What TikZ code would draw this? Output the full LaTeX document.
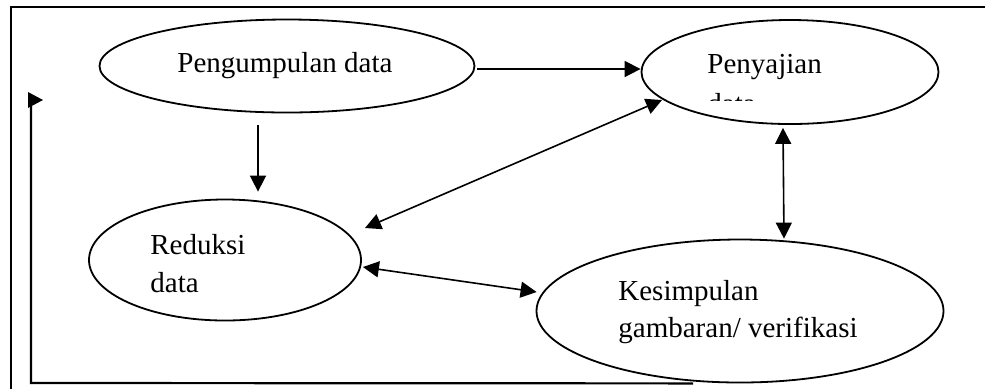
\documentclass[tikz,border=0pt]{standalone}
\usepackage{fontspec}
\setmainfont{Liberation Serif}
\usetikzlibrary{arrows.meta,calc,shapes.geometric}
\begin{document}
\begin{tikzpicture}[x=0.5pt,y=-0.5pt,
  ell/.style={draw, ellipse, line width=0.9pt, inner sep=0pt},
  lbl/.style={anchor=base west, inner sep=0pt, font=\fontsize{14.5}{17}\selectfont},
  conn/.style={line width=0.8pt, -{Triangle[length=8pt,width=8pt]}},
  biconn/.style={line width=0.8pt, {Triangle[length=8pt,width=8pt]}-{Triangle[length=8pt,width=8pt]}},
  framestyle/.style={line width=1.1pt}]
\useasboundingbox (0,0) rectangle (985,388);

% ellipses
\node[ell, minimum width=187.5pt, minimum height=46.5pt] (peng) at (287,66) {};
\node[ell, minimum width=148.5pt, minimum height=52pt] (peny) at (790,72) {};
\node[ell, minimum width=136pt, minimum height=60.5pt] (red) at (225,260) {};
\node[ell, minimum width=203.5pt, minimum height=71.5pt] (kes) at (740,311) {};

% labels
\node[lbl] (tpeng) at (177,72) {Pengumpulan data};
\node[lbl] (tpeny) at (707,73) {Penyajian};
\begin{scope}
  \clip (690,0) rectangle (800,100);
  \node[lbl] (tpeny2) at (707,113) {data};
\end{scope}
\node[lbl] (tred1) at (150,254) {Reduksi};
\node[lbl] (tred2) at (150,292) {data};
\node[lbl] (tkes1) at (618,300) {Kesimpulan};
\node[lbl] (tkes2) at (618,337) {gambaran/ verifikasi};

% connectors
\draw[conn] ($(peng.east)+(2,3)$) -- ($(peny.west)+(0,-3)$);
\draw[conn] ($(peng.south)+(-29,12)$) -- ($(red.north)+(33,-7)$);
\draw[biconn] ($(red.center)+(140,-32)$) -- ($(peny.center)+(-128,28)$);
\draw[biconn] ($(red.east)+(1,7)$) -- ($(kes.west)+(1,-19)$);
\draw[biconn] ($(peny.south)+(-7,3)$) -- ($(kes.north)+(44,0)$);

% frame
\draw[framestyle] (985,7) -- (11,7) -- (11,390);

% feedback line
\coordinate (fbend) at ($(kes.south)+(-47,0)$);
\coordinate (fbcorner) at (31,383);
\coordinate (fbtop) at (31,100);
\draw[framestyle] (fbend) -- (fbcorner) -- ($(fbtop)+(0,6)$);
\fill (28,92) -- (43,100) -- (28,108) -- cycle;
\end{tikzpicture}
\end{document}
